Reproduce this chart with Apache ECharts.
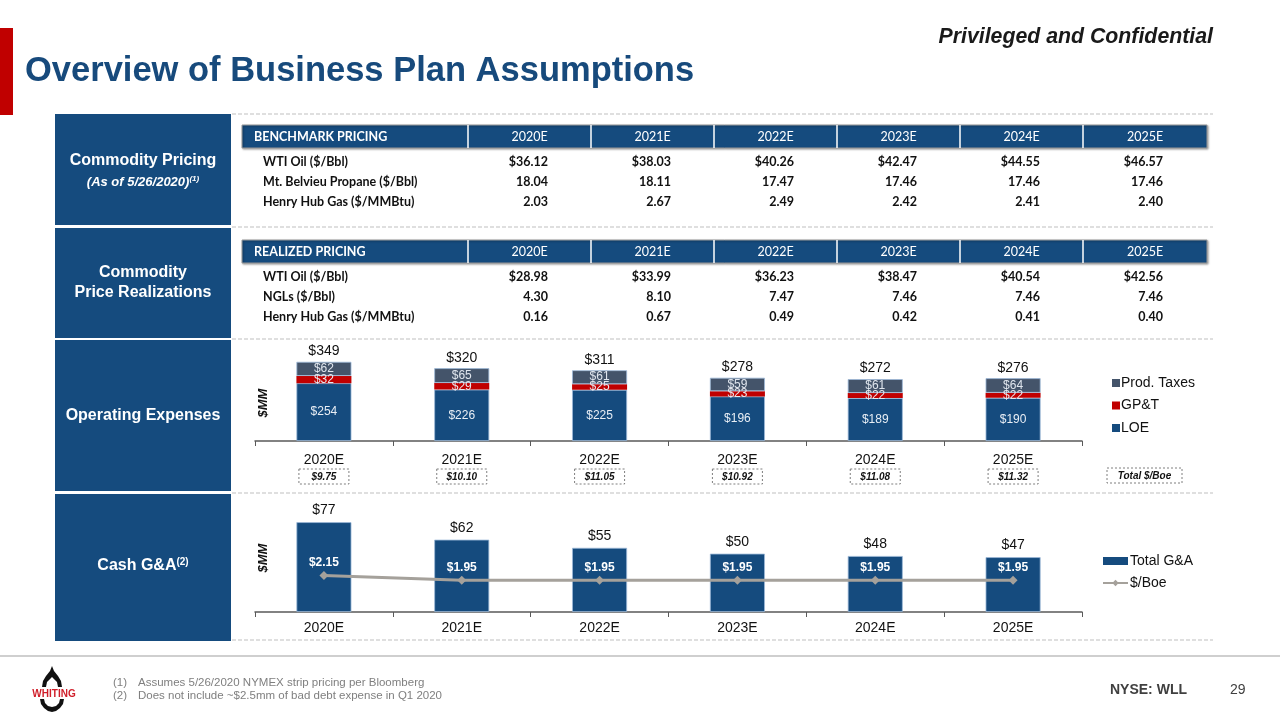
<!DOCTYPE html>
<html><head><meta charset="utf-8">
<script src="https://cdn.jsdelivr.net/npm/echarts@6/dist/echarts.min.js"></script>
<style>html,body{margin:0;padding:0;background:#fff}#c{width:1280px;height:720px}</style>
</head><body><div id="c"></div><script>
// ---------- DATA ----------
const years = ['2020E','2021E','2022E','2023E','2024E','2025E'];

const benchLabels = ['WTI Oil ($/Bbl)','Mt. Belvieu Propane ($/Bbl)','Henry Hub Gas ($/MMBtu)'];
const benchWti     = [36.12, 38.03, 40.26, 42.47, 44.55, 46.57];
const benchPropane = [18.04, 18.11, 17.47, 17.46, 17.46, 17.46];
const benchGas     = [2.03, 2.67, 2.49, 2.42, 2.41, 2.40];

const realLabels = ['WTI Oil ($/Bbl)','NGLs ($/Bbl)','Henry Hub Gas ($/MMBtu)'];
const realOil = [28.98, 33.99, 36.23, 38.47, 40.54, 42.56];
const realNgl = [4.30, 8.10, 7.47, 7.46, 7.46, 7.46];
const realGas = [0.16, 0.67, 0.49, 0.42, 0.41, 0.40];

const loe      = [254, 226, 225, 196, 189, 190];
const gpt      = [32, 29, 25, 23, 22, 22];
const prodTax  = [62, 65, 61, 59, 61, 64];
const opexTotal = [349, 320, 311, 278, 272, 276];
const opexBoe  = [9.75, 10.10, 11.05, 10.92, 11.08, 11.32];

const gaTotal = [77, 62, 55, 50, 48, 47];
const gaBoe   = [2.15, 1.95, 1.95, 1.95, 1.95, 1.95];

// ---------- STYLE ----------
const BLUE = '#154B7E', RED = '#C00000', SLATE = '#44546A', LINEGRAY = '#A5A19B';
const ARIAL = '"Liberation Sans", Arial, sans-serif';
const TFONT = 'Lato, "Open Sans", sans-serif';

const chart = echarts.init(document.getElementById('c'), null, {renderer:'canvas'});

const graphics = [];
graphics.push({type:'rect', shape:{x:0,y:28,width:13,height:87}, style:{fill:'#C00000'}});
graphics.push({type:'text', x:25, y:71, style:{text:'Overview of Business Plan Assumptions', font:'bold 34.5px '+ARIAL, fill:'#174A7C', textVerticalAlign:'middle'}});
graphics.push({type:'text', x:1213, y:37, style:{text:'Privileged and Confidential', font:'italic bold 21.3px '+ARIAL, fill:'#1a1a1a', textAlign:'right', textVerticalAlign:'middle'}});

const boxes = [[114,225],[228,338],[340,491],[494,641]];
boxes.forEach(b => graphics.push({type:'rect', shape:{x:55,y:b[0],width:176,height:b[1]-b[0]}, style:{fill:BLUE}}));
function boxText(t, y, font) { graphics.push({type:'text', x:143, y:y, style:{text:t, font:font, fill:'#fff', textAlign:'center', textVerticalAlign:'middle'}}); }
boxText('Commodity Pricing', 161, 'bold 16px '+ARIAL);
graphics.push({type:'text', x:143, y:182, style:{rich:{a:{font:'italic bold 13px '+ARIAL, fill:'#fff'}, s:{font:'italic bold 8px '+ARIAL, fill:'#fff', verticalAlign:'top', padding:[0,0,6,0]}}, text:'{a|(As of 5/26/2020)}{s|(1)}', textAlign:'center', textVerticalAlign:'middle'}});
boxText('Commodity', 273, 'bold 16px '+ARIAL);
boxText('Price Realizations', 293, 'bold 16px '+ARIAL);
boxText('Operating Expenses', 416, 'bold 16px '+ARIAL);
graphics.push({type:'text', x:143, y:566, style:{rich:{a:{font:'bold 16px '+ARIAL, fill:'#fff'}, s:{font:'bold 10px '+ARIAL, fill:'#fff', padding:[0,0,8,0]}}, text:'{a|Cash G&A}{s|(2)}', textAlign:'center', textVerticalAlign:'middle'}});

[114, 227, 339, 493, 640].forEach(y => graphics.push({type:'line', shape:{x1:232,y1:y,x2:1213,y2:y}, style:{stroke:'#BFBFBF', lineWidth:1, lineDash:[4,2]}}));

const colEdges = [242, 468, 591, 714, 837, 960, 1083, 1207];
function table(title, labels, rows, top, fmts) {
  graphics.push({type:'rect', shape:{x:242,y:top,width:965,height:23}, style:{fill:BLUE, stroke:'#9a9a9a', lineWidth:1, shadowBlur:2, shadowColor:'rgba(0,0,0,0.35)', shadowOffsetX:1, shadowOffsetY:1}});
  for (let i = 1; i < 7; i++) graphics.push({type:'line', shape:{x1:colEdges[i],y1:top,x2:colEdges[i],y2:top+23}, style:{stroke:'#fff', lineWidth:1.5}});
  graphics.push({type:'text', x:254, y:top+12, style:{text:title, font:'bold 12.5px '+TFONT, fill:'#fff', textVerticalAlign:'middle'}});
  years.forEach((yr, i) => graphics.push({type:'text', x:(colEdges[i+1]+colEdges[i+2])/2, y:top+12, style:{text:yr, font:'12.5px '+TFONT, fill:'#fff', textAlign:'center', textVerticalAlign:'middle'}}));
  const offs = [36.5, 56.5, 76.5];
  labels.forEach((lab, r) => {
    graphics.push({type:'text', x:263, y:top+offs[r], style:{text:lab, font:'bold 12.5px '+TFONT, fill:'#111', textVerticalAlign:'middle'}});
    rows[r].forEach((v, i) => graphics.push({type:'text', x:colEdges[i+1]+80, y:top+offs[r], style:{text:fmts[r](v), font:'bold 12.5px '+TFONT, fill:'#111', textAlign:'right', textVerticalAlign:'middle'}}));
  });
}
const dollar = v => '$' + v.toFixed(2), plain = v => v.toFixed(2);
table('BENCHMARK PRICING', benchLabels, [benchWti, benchPropane, benchGas], 125, [dollar, plain, plain]);
table('REALIZED PRICING', realLabels, [realOil, realNgl, realGas], 240, [dollar, plain, plain]);

[[263,403],[263,558]].forEach(p => graphics.push({type:'text', x:p[0], y:p[1], rotation:Math.PI/2, style:{text:'$MM', font:'italic bold 13px '+ARIAL, fill:'#111', textAlign:'center', textVerticalAlign:'middle'}}));

graphics.push({type:'rect', shape:{x:1107,y:468,width:75,height:15}, style:{fill:'#fff', stroke:'#7f7f7f', lineWidth:1, lineDash:[2,2]}});
graphics.push({type:'text', x:1144.5, y:476, style:{text:'Total $/Boe', font:'italic bold 10px '+ARIAL, fill:'#111', textAlign:'center', textVerticalAlign:'middle'}});

graphics.push({type:'line', shape:{x1:0,y1:656,x2:1280,y2:656}, style:{stroke:'#BFBFBF', lineWidth:1.5}});
const FN = '11.5px '+ARIAL;
graphics.push({type:'text', x:113, y:683, style:{text:'(1)', font:FN, fill:'#7f7f7f', textVerticalAlign:'middle'}});
graphics.push({type:'text', x:138, y:683, style:{text:'Assumes 5/26/2020 NYMEX strip pricing per Bloomberg', font:FN, fill:'#7f7f7f', textVerticalAlign:'middle'}});
graphics.push({type:'text', x:113, y:696, style:{text:'(2)', font:FN, fill:'#7f7f7f', textVerticalAlign:'middle'}});
graphics.push({type:'text', x:138, y:696, style:{text:'Does not include ~$2.5mm of bad debt expense in Q1 2020', font:FN, fill:'#7f7f7f', textVerticalAlign:'middle'}});
graphics.push({type:'text', x:1110, y:690, style:{text:'NYSE: WLL', font:'bold 14px '+ARIAL, fill:'#404040', textVerticalAlign:'middle'}});
graphics.push({type:'text', x:1230, y:690, style:{text:'29', font:'14px '+ARIAL, fill:'#404040', textVerticalAlign:'middle'}});
// logo
graphics.push({type:'polygon', shape:{points:[[52,666],[50,671],[46,676],[43,681],[42,687],[46,687],[47,682],[52,677],[57,682],[58,687],[62,687],[61,681],[58,676],[54,671]]}, style:{fill:'#111'}});
graphics.push({type:'polygon', shape:{points:[[40,699],[41,704],[44,708],[48,711],[52,712],[56,711],[60,708],[63,704],[64,699],[60,699],[59,703],[56,706],[52,707],[48,706],[45,703],[44,699]]}, style:{fill:'#111'}});
graphics.push({type:'text', x:54, y:694, style:{text:'WHITING', font:'bold 10px '+ARIAL, fill:'#D01F2A', textAlign:'center', textVerticalAlign:'middle'}});

const GL = 255, GW = 827;
const catAxisBase = {
  type:'category', data:years,
  axisLine:{lineStyle:{color:'#595959', width:1.5}},
  axisTick:{show:true, length:5, lineStyle:{color:'#595959'}},
  splitLine:{show:false}
};

const option = {
  animation:false,
  backgroundColor:'#fff',
  graphic: graphics,
  grid:[
    {left:GL, width:GW, top:350, height:91},
    {left:GL, width:GW, top:507, height:105}
  ],
  xAxis:[
    Object.assign({}, catAxisBase, {gridIndex:0,
      axisLabel:{margin:8, formatter:(v, i) => '{c|' + v + '}\n{b|$' + opexBoe[i].toFixed(2) + '}',
        rich:{
          c:{fontFamily:ARIAL, fontSize:14, color:'#111', lineHeight:22},
          b:{fontFamily:ARIAL, fontSize:10, fontWeight:'bold', fontStyle:'italic', color:'#111', borderColor:'#7f7f7f', borderWidth:1, borderType:[2,2], padding:[3,4,2,4], width:42, align:'center', lineHeight:11}
        }}}),
    Object.assign({}, catAxisBase, {gridIndex:1,
      axisLabel:{margin:9, fontFamily:ARIAL, fontSize:14, color:'#111'}})
  ],
  yAxis:[
    {type:'value', gridIndex:0, min:0, max:400, show:false, splitLine:{show:false}},
    {type:'value', gridIndex:1, min:0, max:90, show:false, splitLine:{show:false}},
    {type:'value', gridIndex:1, min:0.6, max:5.07, show:false, splitLine:{show:false}}
  ],
  legend:[
    {data:['Prod. Taxes','GP&T','LOE'], orient:'vertical', left:1112, top:376, padding:0, itemWidth:8, itemHeight:8, itemGap:8.5, icon:'rect',
     itemStyle:{borderWidth:0},
     textStyle:{fontFamily:ARIAL, fontSize:14, color:'#111', padding:[0,0,0,-4]}},
    {data:[{name:'Total G&A', icon:'rect'},{name:'$/Boe'}], orient:'vertical', left:1102, top:554, padding:0, itemWidth:25, itemHeight:8, itemGap:8,
     itemStyle:{borderWidth:0},
     textStyle:{fontFamily:ARIAL, fontSize:14, color:'#111', padding:[0,0,0,-3]}}
  ],
  series:[
    {name:'LOE', type:'bar', stack:'opex', xAxisIndex:0, yAxisIndex:0, data:loe, barWidth:55,
     itemStyle:{color:BLUE, borderColor:'#9DB9D8', borderWidth:0.8},
     label:{show:true, position:'inside', formatter:p => '$' + p.value, fontFamily:ARIAL, fontSize:12, color:'#E8EEF5'}},
    {name:'GP&T', type:'bar', stack:'opex', xAxisIndex:0, yAxisIndex:0, data:gpt, barWidth:55,
     itemStyle:{color:RED},
     label:{show:true, position:'inside', formatter:p => '$' + p.value, fontFamily:ARIAL, fontSize:12, color:'#E8E8EE'}},
    {name:'Prod. Taxes', type:'bar', stack:'opex', xAxisIndex:0, yAxisIndex:0, data:prodTax, barWidth:55,
     itemStyle:{color:SLATE, borderColor:'#9DB9D8', borderWidth:0.8},
     label:{show:true, position:'inside', formatter:p => '$' + p.value, fontFamily:ARIAL, fontSize:12, color:'#E0E6EE'}},
    {name:'opexTotal', type:'line', xAxisIndex:0, yAxisIndex:0, data:opexTotal, symbol:'circle', symbolSize:1, showSymbol:true,
     itemStyle:{color:'rgba(0,0,0,0)'}, lineStyle:{width:0, opacity:0}, silent:true, z:5,
     label:{show:true, position:'top', distance:3, formatter:p => '$' + p.value, fontFamily:ARIAL, fontSize:14, color:'#111'}},
    {name:'Total G&A', type:'bar', xAxisIndex:1, yAxisIndex:1, data:gaTotal, barWidth:55,
     itemStyle:{color:BLUE, borderColor:'#9DB9D8', borderWidth:0.8},
     label:{show:true, position:'top', distance:5, formatter:p => '$' + p.value, fontFamily:ARIAL, fontSize:14, color:'#111'}},
    {name:'$/Boe', type:'line', xAxisIndex:1, yAxisIndex:2, data:gaBoe, symbol:'diamond', symbolSize:9,
     lineStyle:{color:LINEGRAY, width:3}, itemStyle:{color:LINEGRAY},
     label:{show:true, position:'top', distance:2, formatter:p => '$' + p.value.toFixed(2), fontFamily:ARIAL, fontSize:12, fontWeight:'bold', color:'#fff'}}
  ]
};
chart.setOption(option);
</script></body></html>
